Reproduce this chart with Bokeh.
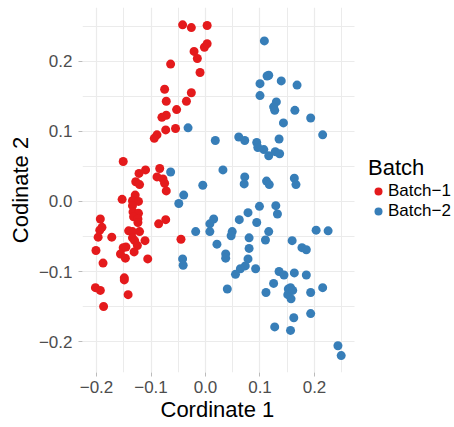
from bokeh.plotting import figure
from bokeh.models import FixedTicker, Legend, LegendItem, Range1d, Title
from bokeh.embed import file_html
from bokeh.resources import INLINE

batch1_x = [-0.042, -0.026, 0.003, -0.021, -0.015, -0.002, 0.003, -0.064, -0.010, -0.075,
            -0.026, -0.072, -0.035, -0.053, -0.072, -0.080, -0.073, -0.055, -0.089, -0.094,
            -0.151, -0.084, -0.110, -0.122, -0.089, -0.078, -0.128, -0.121, -0.075, -0.072,
            -0.129, -0.153, -0.134, -0.123, -0.134, -0.133, -0.123, -0.132, -0.124, -0.124,
            -0.193, -0.190, -0.194, -0.141, -0.121, -0.134, -0.086, -0.073, -0.197, -0.172,
            -0.134, -0.130, -0.111, -0.045, -0.146, -0.151, -0.201, -0.131, -0.156, -0.147,
            -0.106, -0.188, -0.149, -0.149, -0.202, -0.193, -0.142, -0.187, -0.125]
batch1_y = [0.252, 0.248, 0.251, 0.214, 0.204, 0.220, 0.225, 0.196, 0.184, 0.160,
            0.155, 0.143, 0.143, 0.131, 0.123, 0.120, 0.102, 0.104, 0.095, 0.090,
            0.057, 0.047, 0.045, 0.040, 0.035, 0.032, 0.028, 0.024, 0.026, 0.015,
            0.009, 0.003, 0.001, 0.000, -0.006, -0.015, -0.017, -0.022, -0.025, -0.030,
            -0.025, -0.037, -0.041, -0.042, -0.043, -0.043, -0.032, -0.026, -0.051, -0.051,
            -0.052, -0.056, -0.056, -0.054, -0.065, -0.066, -0.070, -0.072, -0.075, -0.081,
            -0.082, -0.088, -0.109, -0.112, -0.123, -0.127, -0.133, -0.150, -0.063]

batch2_x = [-0.032, 0.108, 0.116, 0.113, 0.139, 0.168, 0.100, 0.100, 0.130, 0.125,
            0.127, 0.164, 0.193, 0.143, 0.215, 0.018, 0.061, 0.072, 0.094, 0.096,
            0.107, 0.116, 0.128, 0.136, 0.135, -0.064, 0.032, 0.072, 0.071, 0.112,
            0.117, 0.163, 0.166, -0.005, -0.040, -0.049, 0.099, 0.129, 0.132, 0.078,
            0.062, 0.094, 0.015, 0.008, 0.008, -0.018, 0.049, 0.047, 0.116, 0.110,
            0.080, 0.080, 0.021, 0.037, 0.037, 0.203, 0.225, 0.159, 0.177, 0.185,
            -0.042, -0.041, 0.078, 0.073, 0.064, 0.055, 0.092, 0.135, 0.144, 0.163,
            0.185, 0.125, 0.156, 0.151, 0.157, 0.193, 0.215, 0.040, 0.111, 0.162,
            0.193, 0.127, 0.156, 0.243, 0.249, 0.152, 0.160]
batch2_y = [0.105, 0.229, 0.180, 0.179, 0.172, 0.166, 0.168, 0.151, 0.142, 0.135,
            0.130, 0.130, 0.119, 0.112, 0.095, 0.087, 0.092, 0.087, 0.084, 0.077,
            0.074, 0.065, 0.071, 0.068, 0.089, 0.042, 0.045, 0.035, 0.025, 0.029,
            0.024, 0.033, 0.024, 0.023, 0.009, -0.003, -0.007, -0.006, -0.018, -0.016,
            -0.026, -0.030, -0.025, -0.032, -0.043, -0.043, -0.043, -0.049, -0.043, -0.055,
            -0.052, -0.067, -0.061, -0.075, -0.081, -0.041, -0.042, -0.056, -0.066, -0.069,
            -0.082, -0.091, -0.082, -0.092, -0.096, -0.104, -0.096, -0.100, -0.105, -0.102,
            -0.105, -0.117, -0.123, -0.133, -0.139, -0.130, -0.123, -0.125, -0.130, -0.166,
            -0.160, -0.179, -0.184, -0.206, -0.220, -0.125, -0.127]

tick_values = [-0.2, -0.1, 0.0, 0.1, 0.2]
tick_labels = ["\u22120.2", "\u22120.1", "0.0", "0.1", "0.2"]
minor_values = [-0.25, -0.15, -0.05, 0.05, 0.15, 0.25]
batch_labels = ["Batch\u22121", "Batch\u22122"]
batch_colors = ["#E41A1C", "#377EB8"]

FONT = "Liberation Sans"

# panel (data area) limits; the frame extends further right to hold the legend
X_LO, X_HI = -0.2257, 0.2734
X_FRAME_HI = 0.4569
Y_LO, Y_HI = -0.2441, 0.2767

p = figure(width=454, height=427, output_backend="svg", toolbar_location=None,
           x_range=Range1d(X_LO, X_FRAME_HI), y_range=Range1d(Y_LO, Y_HI),
           min_border_left=82, min_border_right=0, min_border_top=7, min_border_bottom=55)
p.outline_line_color = None
p.background_fill_color = "white"
p.border_fill_color = "white"

r1 = p.scatter(batch1_x, batch1_y, size=9, fill_color=batch_colors[0], line_color=None)
r2 = p.scatter(batch2_x, batch2_y, size=9, fill_color=batch_colors[1], line_color=None)

for ax in (p.xaxis[0], p.yaxis[0]):
    ax.ticker = FixedTicker(ticks=tick_values, minor_ticks=minor_values)
    ax.major_label_overrides = dict(zip(tick_values, tick_labels))
    ax.axis_line_color = None
    ax.major_tick_line_color = "#BBBBBB"
    ax.major_tick_in = 0
    ax.major_tick_out = 4
    ax.minor_tick_line_color = None
    ax.major_label_text_font = FONT
    ax.major_label_text_font_size = "17px"
    ax.major_label_text_color = "#4D4D4D"
    ax.axis_label_text_font = FONT
    ax.axis_label_text_font_size = "22px"
    ax.axis_label_text_font_style = "normal"
    ax.axis_label_text_color = "black"

p.xaxis.bounds = (X_LO, X_HI)
p.xaxis.major_label_standoff = 4
p.yaxis.axis_label = "Codinate 2"
p.yaxis.major_label_standoff = 6
p.yaxis.axis_label_standoff = 3

# x-axis title, centred under the data panel (not under the wider frame)
x_title = Title(text="Cordinate 1", align="left", offset=78, vertical_align="middle",
                standoff=0, text_font=FONT, text_font_size="22px",
                text_font_style="normal", text_color="black")
p.add_layout(x_title, "below")

for g in (p.xgrid[0], p.ygrid[0]):
    g.grid_line_color = "#EBEBEB"
    g.grid_line_width = 1.2
    g.minor_grid_line_color = "#EBEBEB"
    g.minor_grid_line_width = 1.0
try:
    p.ygrid[0].cross_bounds = (X_LO, X_HI)
except AttributeError:
    pass

legend_style = dict(label_text_font=FONT, label_text_font_size="17px", label_text_color="black",
                    label_height=17, glyph_width=20, glyph_height=20, label_standoff=0,
                    spacing=0, padding=0, margin=0, border_line_color=None,
                    background_fill_alpha=0)
legend_a = Legend(items=[LegendItem(label=batch_labels[0], renderers=[r1])],
                  location=(286, 171), title="Batch",
                  title_text_font=FONT, title_text_font_size="22px",
                  title_text_font_style="normal", title_text_color="black", title_standoff=0,
                  **legend_style)
legend_b = Legend(items=[LegendItem(label=batch_labels[1], renderers=[r2])],
                  location=(286, 151), **legend_style)
p.add_layout(legend_a)
p.add_layout(legend_b)

open("out.html", "w").write(file_html(p, INLINE))
